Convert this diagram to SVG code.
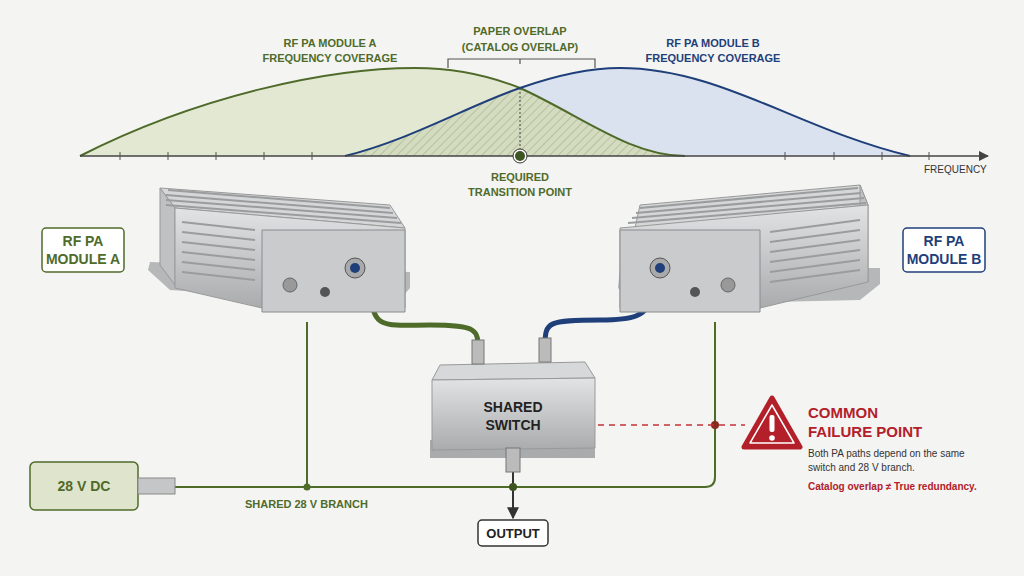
<svg xmlns="http://www.w3.org/2000/svg" width="1024" height="576" viewBox="0 0 1024 576">
<defs>
<style>
.t{font-family:"Liberation Sans",Arial,sans-serif;font-weight:bold}
.g{fill:#4f6b2a}.b{fill:#1f3f7a}.r{fill:#b3202a}.k{fill:#333}
.lbl{fill:#fff;stroke-width:1.5}
.metal{fill:#c9cbcd;stroke:#8a8c8f;stroke-width:1}
.fin{stroke:#9a9c9e;stroke-width:2}
</style>
<pattern id="hatch" width="6" height="6" patternUnits="userSpaceOnUse" patternTransform="rotate(45)"><rect width="6" height="6" fill="#d4dcc0"/><line x1="0" y1="0" x2="0" y2="6" stroke="#9aa585" stroke-width="1"/></pattern>
<linearGradient id="mg" x1="0" y1="0" x2="0" y2="1"><stop offset="0" stop-color="#e2e3e4"/><stop offset="1" stop-color="#a9abad"/></linearGradient>
<marker id="ar" viewBox="0 0 10 10" refX="9" refY="5" markerWidth="7" markerHeight="7" orient="auto"><path d="M0,0L10,5L0,10z" fill="#444"/></marker>
<marker id="ag" viewBox="0 0 10 10" refX="9" refY="5" markerWidth="6" markerHeight="6" orient="auto"><path d="M0,0L10,5L0,10z" fill="#333"/></marker>
</defs>
<rect width="1024" height="576" fill="#f4f4f3"/>

<g id="chart">
<path d="M80,156 C200,95 330,68 415,68 C460,68 495,78 520,88 C580,115 630,156 685,156 Z" fill="#e3e8d3"/>
<path d="M345,156 C410,140 470,105 520,88 C560,74 590,68 620,68 C720,68 800,130 910,156 Z" fill="#d9e2ee"/>
<path d="M345,156 C410,140 470,105 520,88 C580,115 630,156 685,156 Z" fill="url(#hatch)"/>
<path d="M80,156 C200,95 330,68 415,68 C460,68 495,78 520,88 C580,115 630,156 685,156" fill="none" stroke="#4f6b2a" stroke-width="2"/>
<path d="M345,156 C410,140 470,105 520,88 C560,74 590,68 620,68 C720,68 800,130 910,156" fill="none" stroke="#1f3f7a" stroke-width="2"/>
<line x1="80" y1="156" x2="988" y2="156" stroke="#444" stroke-width="1.5" marker-end="url(#ar)"/>
<g stroke="#555"><line x1="120" y1="152" x2="120" y2="160"/><line x1="168" y1="152" x2="168" y2="160"/><line x1="216" y1="152" x2="216" y2="160"/><line x1="264" y1="152" x2="264" y2="160"/><line x1="312" y1="152" x2="312" y2="160"/><line x1="785" y1="152" x2="785" y2="160"/><line x1="834" y1="152" x2="834" y2="160"/><line x1="882" y1="152" x2="882" y2="160"/><line x1="929" y1="152" x2="929" y2="160"/></g>
<line x1="520" y1="88" x2="520" y2="150" stroke="#444" stroke-dasharray="2,2"/>
<path d="M448,68V59H595V68M520,59V64" fill="none" stroke="#555" stroke-width="1.2"/>
<circle cx="520" cy="156" r="7" fill="#fff" stroke="#333"/><circle cx="520" cy="156" r="5" fill="#3d5520"/>
<text class="t g" font-size="11" text-anchor="middle" x="330" y="47">RF PA MODULE A</text>
<text class="t g" font-size="11" text-anchor="middle" x="330" y="62">FREQUENCY COVERAGE</text>
<text class="t g" font-size="11" text-anchor="middle" x="520" y="35">PAPER OVERLAP</text>
<text class="t g" font-size="11" text-anchor="middle" x="520" y="51">(CATALOG OVERLAP)</text>
<text class="t b" font-size="11" text-anchor="middle" x="713" y="47">RF PA MODULE B</text>
<text class="t b" font-size="11" text-anchor="middle" x="713" y="62">FREQUENCY COVERAGE</text>
<text class="k" font-family="Liberation Sans,Arial,sans-serif" font-size="10" x="924" y="173">FREQUENCY</text>
<text class="t g" font-size="11" text-anchor="middle" x="520" y="181">REQUIRED</text>
<text class="t g" font-size="11" text-anchor="middle" x="520" y="196">TRANSITION POINT</text>
</g>

<g id="connectors" fill="none">
<path d="M372,298 C372,330 390,325 430,325 C478,325 478,330 478,350" stroke="#4f6b2a" stroke-width="5"/>
<path d="M652,292 C650,318 630,320 600,320 C548,320 545,322 545,345" stroke="#1f3f7a" stroke-width="5"/>
<path d="M175,487 H705 Q715,487 715,477 V322" stroke="#4f6b2a" stroke-width="2"/>
<line x1="307" y1="487" x2="307" y2="322" stroke="#4f6b2a" stroke-width="2"/>
<circle cx="307" cy="487" r="3.5" fill="#4f6b2a"/>
<circle cx="715" cy="425" r="4" fill="#8b2a1e"/>
<line x1="513" y1="470" x2="513" y2="518" stroke="#333" stroke-width="2" marker-end="url(#ag)"/>
<circle cx="513" cy="487" r="4" fill="#3d5520"/>
<line x1="598" y1="425" x2="745" y2="425" stroke="#c4303a" stroke-width="1.5" stroke-dasharray="6,5"/>
<text class="t g" font-size="11" x="245" y="508">SHARED 28 V BRANCH</text>
</g>

<g id="moduleA">
<polygon points="148,270 170,290 395,305 410,288 410,272 150,262" fill="#b5b7b9"/>
<polygon points="160,188 390,205 405,228 175,208" fill="#d5d6d7" stroke="#999"/>
<polygon points="160,188 175,208 175,285 160,265" fill="#bfc1c3" stroke="#999"/>
<polygon points="175,208 405,228 405,308 262,308 175,288" fill="url(#mg)" stroke="#999"/>
<polygon points="262,230 405,230 405,312 262,312" class="metal" fill="#d0d2d3"/>
<g class="fin"><line x1="168" y1="190" x2="390" y2="208"/><line x1="166" y1="195" x2="393" y2="213"/><line x1="166" y1="200" x2="397" y2="218"/><line x1="166" y1="205" x2="401" y2="223"/><line x1="182" y1="222" x2="255" y2="230"/><line x1="182" y1="232" x2="255" y2="240"/><line x1="182" y1="242" x2="255" y2="250"/><line x1="182" y1="252" x2="255" y2="260"/><line x1="182" y1="262" x2="255" y2="270"/><line x1="182" y1="272" x2="255" y2="280"/></g>
<circle cx="290" cy="285" r="7" fill="#999" stroke="#666"/><circle cx="355" cy="268" r="10" fill="#aaa" stroke="#555"/><circle cx="355" cy="268" r="5" fill="#1f3f7a"/>
<circle cx="325" cy="292" r="5" fill="#555"/>
<rect x="42" y="228" width="82" height="44" rx="4" class="lbl" stroke="#4f6b2a"/>
<text class="t g" font-size="14" text-anchor="middle" x="83" y="246">RF PA</text>
<text class="t g" font-size="14" text-anchor="middle" x="83" y="264">MODULE A</text>
</g>

<g id="moduleB">
<polygon points="618,288 635,305 860,300 880,284 880,268 620,268" fill="#b5b7b9"/>
<polygon points="640,205 860,185 868,205 635,228" fill="#d5d6d7" stroke="#999"/>
<polygon points="860,185 868,205 868,282 860,268" fill="#bfc1c3" stroke="#999"/>
<polygon points="620,228 868,205 868,282 760,308 620,308" fill="url(#mg)" stroke="#999"/>
<polygon points="620,230 760,230 760,312 620,312" class="metal" fill="#d0d2d3"/>
<g class="fin"><line x1="640" y1="208" x2="858" y2="188"/><line x1="636" y1="213" x2="861" y2="193"/><line x1="632" y1="218" x2="864" y2="198"/><line x1="628" y1="223" x2="866" y2="203"/><line x1="770" y1="232" x2="860" y2="220"/><line x1="770" y1="242" x2="860" y2="230"/><line x1="770" y1="252" x2="860" y2="240"/><line x1="770" y1="262" x2="860" y2="250"/><line x1="770" y1="272" x2="860" y2="260"/><line x1="770" y1="282" x2="860" y2="270"/></g>
<circle cx="660" cy="268" r="10" fill="#aaa" stroke="#555"/><circle cx="660" cy="268" r="5" fill="#1f3f7a"/>
<circle cx="728" cy="285" r="7" fill="#999" stroke="#666"/><circle cx="695" cy="292" r="5" fill="#555"/>
<rect x="903" y="228" width="82" height="44" rx="4" class="lbl" stroke="#1f3f7a"/>
<text class="t b" font-size="14" text-anchor="middle" x="944" y="246">RF PA</text>
<text class="t b" font-size="14" text-anchor="middle" x="944" y="264">MODULE B</text>
</g>

<g id="switch">
<polygon points="430,440 595,440 595,458 430,458" fill="#a9abad"/>
<polygon points="440,365 585,362 595,378 432,380" fill="#d7d8d9" stroke="#999"/>
<polygon points="432,380 595,378 595,448 432,450" fill="url(#mg)" stroke="#999"/>
<rect x="472" y="340" width="12" height="24" fill="#bbb" stroke="#777"/>
<rect x="539" y="338" width="12" height="24" fill="#bbb" stroke="#777"/>
<rect x="506" y="448" width="14" height="24" fill="#bbb" stroke="#777"/>
<text class="t" fill="#222" font-size="14" text-anchor="middle" x="513" y="412">SHARED</text>
<text class="t" fill="#222" font-size="14" text-anchor="middle" x="513" y="430">SWITCH</text>
</g>

<g id="dc">
<rect x="30" y="462" width="108" height="48" rx="5" fill="#dfe5cc" stroke="#4f6b2a" stroke-width="1.5"/>
<rect x="138" y="478" width="37" height="16" fill="#c5c6c7" stroke="#888"/>
<text class="t g" font-size="14" text-anchor="middle" x="84" y="491">28 V DC</text>
</g>

<g id="output">
<rect x="478" y="520" width="70" height="26" rx="4" fill="#fff" stroke="#333" stroke-width="1.5"/>
<text class="t" fill="#222" font-size="13" text-anchor="middle" x="513" y="538">OUTPUT</text>
</g>

<g id="failure">
<path d="M772,398 L800,447 L744,447 Z" fill="#b3202a" stroke="#b3202a" stroke-width="5" stroke-linejoin="round"/>
<path d="M772,405 L794,443 L750,443 Z" fill="none" stroke="#fff" stroke-width="1.5" stroke-linejoin="round"/>
<rect x="769.5" y="415" width="5" height="17" rx="2" fill="#fff"/><circle cx="772" cy="438" r="2.8" fill="#fff"/>
<text class="t r" font-size="15" x="808" y="418">COMMON</text>
<text class="t r" font-size="15" x="808" y="437">FAILURE POINT</text>
<text font-family="Liberation Sans,Arial,sans-serif" font-size="10" fill="#333" x="808" y="457">Both PA paths depend on the same</text>
<text font-family="Liberation Sans,Arial,sans-serif" font-size="10" fill="#333" x="808" y="471">switch and 28 V branch.</text>
<text class="t r" font-size="10" x="808" y="490">Catalog overlap ≠ True redundancy.</text>
</g>
</svg>
